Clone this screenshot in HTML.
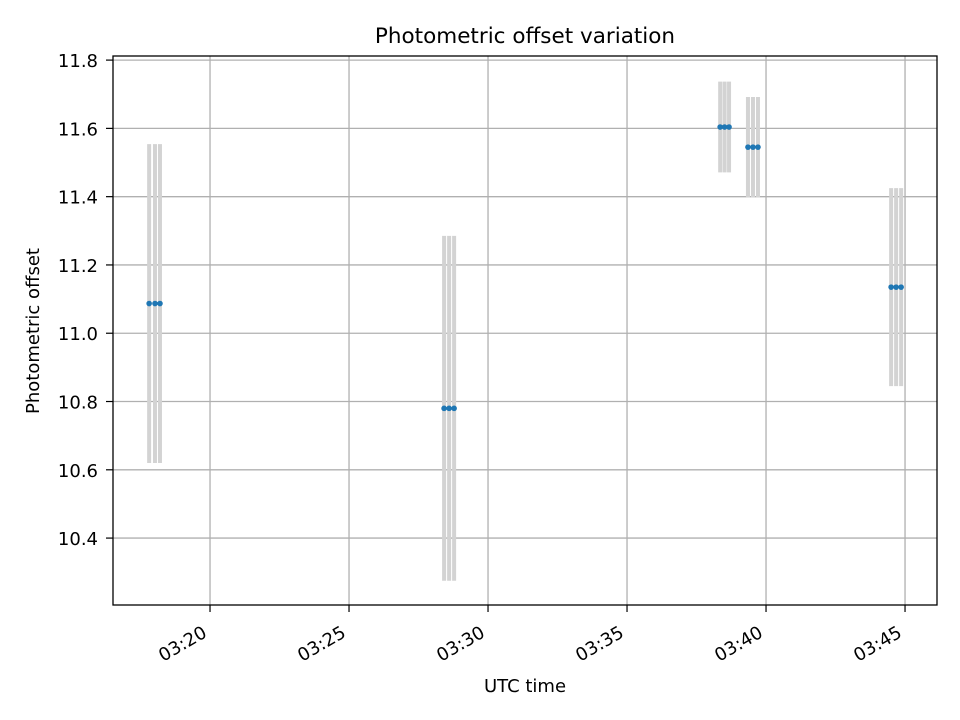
<!DOCTYPE html>
<html><head><meta charset="utf-8"><style>body{margin:0;background:#fff}svg{display:block;font-family:"DejaVu Sans","Liberation Sans",sans-serif}</style></head>
<body>
<svg id="c" width="960" height="720"></svg>
<script>
const times=[17.81,18.02,18.20,28.42,28.60,28.78,38.35,38.51,38.67,39.35,39.53,39.71,44.50,44.68,44.86];
const values=[11.087,11.087,11.087,10.78,10.78,10.78,11.604,11.604,11.604,11.545,11.545,11.545,11.135,11.135,11.135];
const errors=[0.467,0.467,0.467,0.505,0.505,0.505,0.133,0.133,0.133,0.147,0.147,0.147,0.29,0.29,0.29];
const yTicks=[10.4,10.6,10.8,11.0,11.2,11.4,11.6,11.8];
const xTicks=[20,25,30,35,40,45];
const xTickLabels=["03:20","03:25","03:30","03:35","03:40","03:45"];
const L=113,R=937,T=56,B=605,x0=16.51,x1=46.15,y0=10.204,y1=11.812;
const sx=v=>L+(v-x0)/(x1-x0)*(R-L), sy=v=>B-(v-y0)/(y1-y0)*(B-T);
const svg=document.getElementById('c'),NS='http://www.w3.org/2000/svg';
function mk(t,a,p,txt){const e=document.createElementNS(NS,t);for(const k in a)e.setAttribute(k,a[k]);if(txt!=null)e.textContent=txt;(p||svg).appendChild(e);return e;}
const grid=mk('g',{});
xTicks.forEach((v,i)=>{const x=sx(v);
 mk('line',{x1:x,x2:x,y1:T,y2:B,stroke:'#b0b0b0','stroke-width':1.3},grid);
 mk('line',{x1:x,x2:x,y1:B,y2:B+7,stroke:'#000','stroke-width':1.2});
 const t=mk('text',{x:0,y:0,'font-size':18,'text-anchor':'end',transform:`translate(${x-2} ${B+31}) rotate(-30)`},null,xTickLabels[i]);
 });
yTicks.forEach(v=>{const y=sy(v);
 mk('line',{x1:L,x2:R,y1:y,y2:y,stroke:'#b0b0b0','stroke-width':1.3},grid);
 mk('line',{x1:L-7,x2:L,y1:y,y2:y,stroke:'#000','stroke-width':1.2});
 const t=mk('text',{x:L-15,y:y+7,'font-size':18,'text-anchor':'end'},null,v.toFixed(1));
 });
const eb=mk('g',{});
times.forEach((t,i)=>{const x=sx(t);mk('line',{x1:x,x2:x,y1:sy(values[i]-errors[i]),y2:sy(values[i]+errors[i]),stroke:'#d3d3d3','stroke-width':4},eb);});
const pts=mk('g',{});
times.forEach((t,i)=>{mk('circle',{cx:sx(t),cy:sy(values[i]),r:2.8,fill:'#1f77b4'},pts);});
const fr=mk('rect',{x:L,y:T,width:R-L,height:B-T,fill:'none',stroke:'#000','stroke-width':1.3});

let e=mk('text',{x:525,y:43,'font-size':21.5,'text-anchor':'middle'},null,'Photometric offset variation');

e=mk('text',{x:525,y:692,'font-size':18,'text-anchor':'middle'},null,'UTC time');

e=mk('text',{x:39,y:331,'font-size':18,'text-anchor':'middle',transform:'rotate(-90 39 331)'},null,'Photometric offset');

</script>
</body></html>
